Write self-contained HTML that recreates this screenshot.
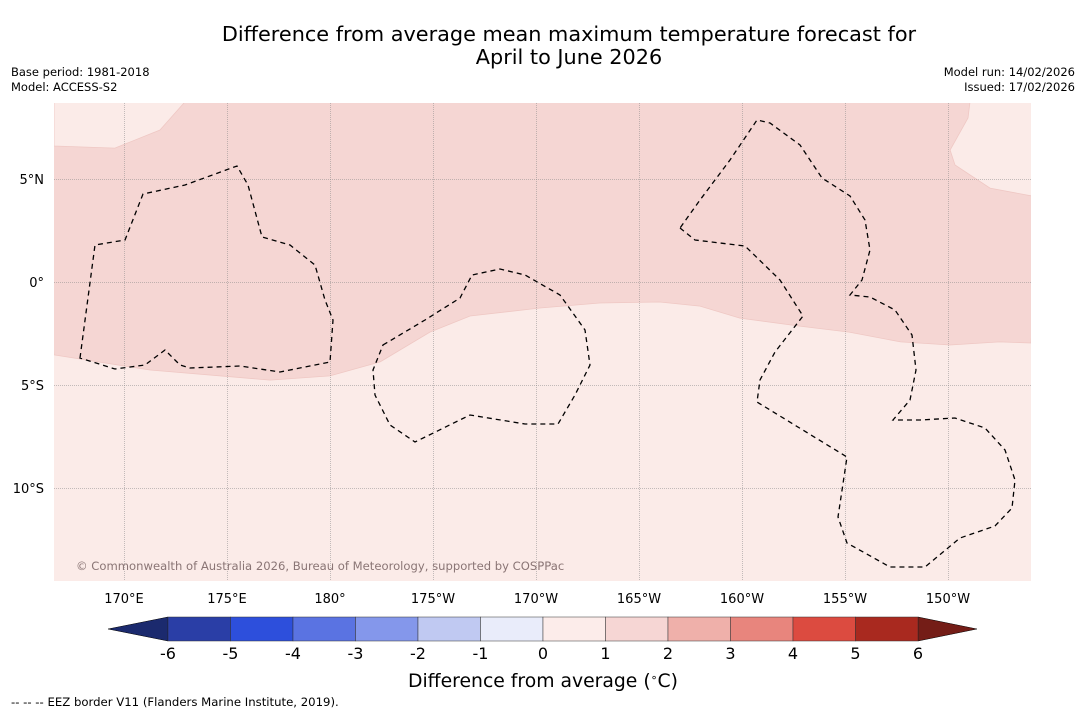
<!DOCTYPE html>
<html><head><meta charset="utf-8"><style>
body{margin:0;background:#fff;font-family:"DejaVu Sans","Liberation Sans",sans-serif;}
svg{display:block}
</style></head><body>
<svg id="s" width="1085" height="713" viewBox="0 0 1085 713">
<text x="569" y="41" font-size="20.8" text-anchor="middle">Difference from average mean maximum temperature forecast for</text>
<text x="569" y="64" font-size="20.8" text-anchor="middle">April to June 2026</text>
<text x="11" y="76" font-size="11.5">Base period: 1981-2018</text>
<text x="11" y="91" font-size="11.5">Model: ACCESS-S2</text>
<text x="1075" y="76" font-size="11.5" text-anchor="end">Model run: 14/02/2026</text>
<text x="1075" y="91" font-size="11.5" text-anchor="end">Issued: 17/02/2026</text>
<g id="map"></g>
<g id="cbar"></g>
<text x="543" y="687" font-size="18.8" text-anchor="middle">Difference from average (<tspan dy="-6" font-size="11">∘</tspan><tspan dy="6">C)</tspan></text>
<text x="11" y="706" font-size="11.7">--  --  -- EEZ border V11 (Flanders Marine Institute, 2019).</text>
</svg>
<script>
const lonTicks=[170,175,180,185,190,195,200,205,210];
const lonLabels=["170°E","175°E","180°","175°W","170°W","165°W","160°W","155°W","150°W"];
const latTicks=[5,0,-5,-10];
const latLabels=["5°N","0°","5°S","10°S"];
const midBoundary=[[166.6,-3.54],[171.26,-4.27],[177.09,-4.76],[180,-4.56],[182.43,-3.88],[184.85,-2.43],[186.8,-1.65],[190.2,-1.26],[193.1,-1.02],[196.0,-0.97],[197.96,-1.17],[199.9,-1.75],[202.8,-2.14],[205.2,-2.43],[207.7,-2.91],[210.1,-3.06],[212.5,-2.91],[214.03,-2.96]];
const topLeftBlob=[[166.6,8.75],[172.96,8.75],[171.75,7.38],[169.56,6.5],[166.6,6.6]];
const topRightBlob=[[211.07,8.75],[214.1,8.75],[214.1,4.17],[212.04,4.56],[210.34,5.68],[210.1,6.41],[210.97,7.96]];
const cbLevels=[-6,-5,-4,-3,-2,-1,0,1,2,3,4,5,6];
const cbColors=["#2a3ea6","#2d4fdc","#5a73e2","#8497eb","#c0c9f2","#e9ecfa","#fcecea","#f6d6d4","#efb0aa","#e8857d","#dc4b40","#a9291f"];
const NS="http://www.w3.org/2000/svg";
const L=54,R=1031,T=103,B=581;
const x=lon=>330+(lon-180)*20.6;
const y=lat=>282-lat*20.6;
const lonMin=180+(L-330)/20.6, lonMax=180+(R-330)/20.6, latTop=(282-T)/20.6;
function mk(p,tag,a){const e=document.createElementNS(NS,tag);for(const k in a)e.setAttribute(k,a[k]);p.appendChild(e);return e;}
const map=document.getElementById('map');
const pts=a=>a.map(p=>x(p[0]).toFixed(1)+','+y(p[1]).toFixed(1)).join(' ');
const defs=mk(map,'clipPath',{id:'clip'});mk(defs,'rect',{x:L,y:T,width:R-L,height:B-T});
const mg=mk(map,'g',{'clip-path':'url(#clip)'});
let light=mk(mg,'rect',{x:L,y:T,width:R-L,height:B-T,fill:'#fbebe8'});

let dark=mk(mg,'polygon',{points:pts([[lonMin-1,latTop+1],[lonMax+1,latTop+1]].concat(midBoundary.slice().reverse())),fill:'#f5d6d3',stroke:'#efc8c4','stroke-width':0.8});

let b1=mk(mg,'polygon',{points:pts(topLeftBlob),fill:'#fbebe8',stroke:'#efc8c4','stroke-width':0.8});

let b2=mk(mg,'polygon',{points:pts(topRightBlob),fill:'#fbebe8',stroke:'#efc8c4','stroke-width':0.8});

lonTicks.forEach((v,i)=>{
 let g=mk(map,'line',{x1:Math.round(x(v))+0.5,x2:Math.round(x(v))+0.5,y1:T,y2:B,stroke:'#8a8a8a','stroke-width':0.5,'stroke-dasharray':'1,1'});
 
 let t=mk(map,'text',{x:x(v),y:B+22,'font-size':13,'text-anchor':'middle'});t.textContent=lonLabels[i];
 
});
latTicks.forEach((v,i)=>{
 let g=mk(map,'line',{x1:L,x2:R,y1:Math.round(y(v))+0.5,y2:Math.round(y(v))+0.5,stroke:'#8a8a8a','stroke-width':0.5,'stroke-dasharray':'1,1'});
 
 let t=mk(map,'text',{x:44,y:y(v)+5,'font-size':13,'text-anchor':'end'});t.textContent=latLabels[i];
 
});
const eez=[
"M80,358 L95,245 L125,240 L143,194 L185,185 L237,166 L248,185 L262,237 L290,245 L315,265 L325,300 L333,320 L330,362 L280,372 L240,366 L190,368 L180,365 L165,350 L145,365 L115,369 Z",
"M383,345 L425,320 L460,298 L472,275 L500,269 L525,275 L560,295 L585,330 L590,365 L575,395 L558,424 L525,424 L470,415 L415,442 L390,425 L375,395 L373,370 Z",
"M680,228 L695,240 L745,246 L780,280 L803,316 L775,352 L760,380 L757,402 L847,457 L838,517 L847,543 L890,567 L925,567 L960,538 L995,526 L1012,508 L1015,480 L1005,450 L985,428 L955,418 L920,420 L893,420 L910,400 L916,370 L912,335 L895,310 L870,297 L850,295 L862,280 L870,250 L865,220 L850,196 L822,178 L800,145 L770,123 L757,120 L730,160 L700,200 Z"];
eez.forEach(d=>{let p=mk(map,'path',{d:d,fill:'none',stroke:'#000','stroke-width':1.3,'stroke-dasharray':'5,4'});
 });
let c=mk(map,'text',{x:76,y:570,'font-size':11.6,fill:'#8a7575'});c.textContent='© Commonwealth of Australia 2026, Bureau of Meteorology, supported by COSPPac';

const cb=document.getElementById('cbar');
const cx0=168,cx1=918,cy0=617,cy1=641,cw=(cx1-cx0)/(cbLevels.length-1);
let lt=mk(cb,'polygon',{points:`108,629 ${cx0},${cy0} ${cx0},${cy1}`,fill:'#1b2a6e',stroke:'#000','stroke-width':0.5});

let rt=mk(cb,'polygon',{points:`977,629 ${cx1},${cy0} ${cx1},${cy1}`,fill:'#741d17',stroke:'#000','stroke-width':0.5});

cbColors.forEach((col,i)=>{let r=mk(cb,'rect',{x:cx0+i*cw,y:cy0,width:cw,height:cy1-cy0,fill:col,stroke:'#333','stroke-width':0.5});
 });
cbLevels.forEach((v,i)=>{let t=mk(cb,'text',{x:cx0+i*cw,y:659,'font-size':16,'text-anchor':'middle'});t.textContent=v;
 });
</script>
</body></html>
